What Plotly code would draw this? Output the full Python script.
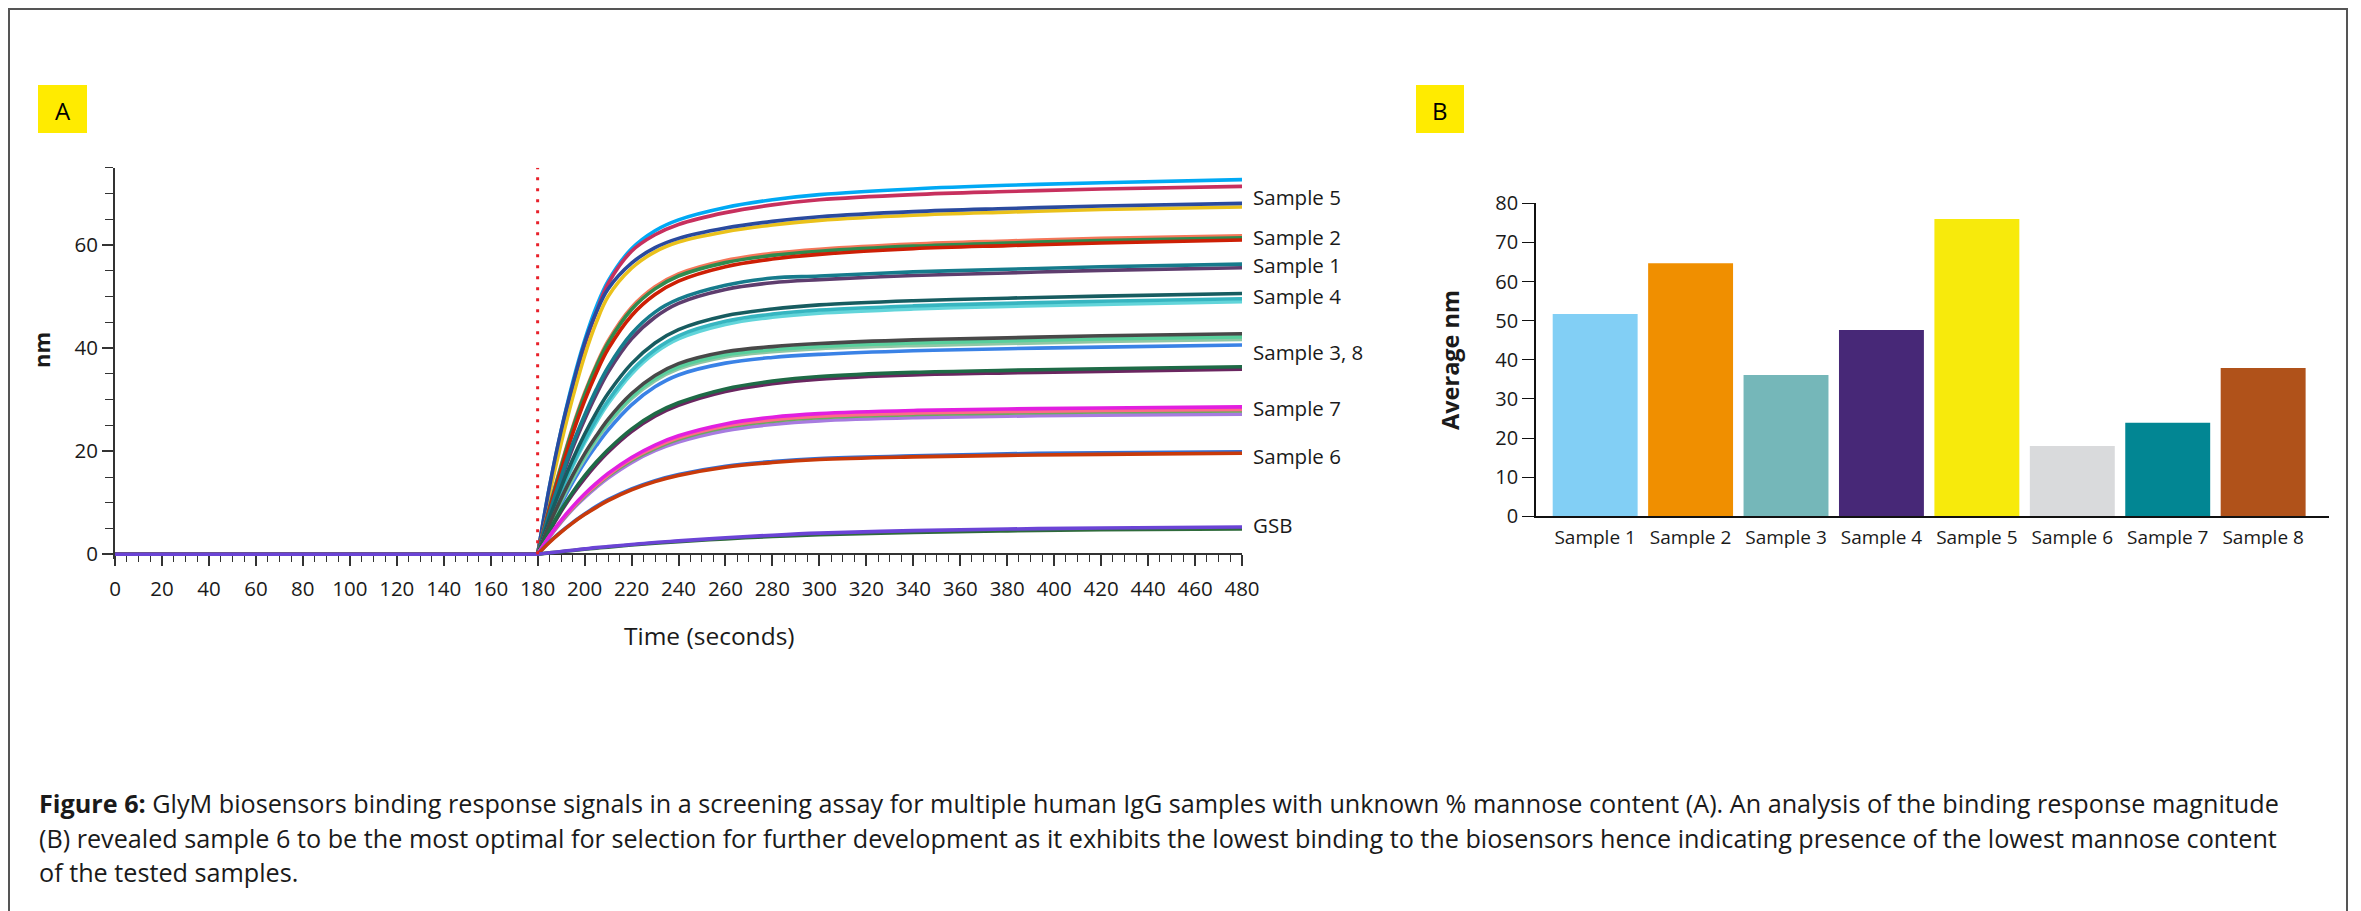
import plotly.graph_objects as go

W, H = 2361, 911

# ---------------- DATA ----------------
baseline_time = [0, 180]
baseline_nm = [0, 0]
assoc_time = [180, 185, 190, 195, 200, 205, 210, 220, 230, 240, 260, 280, 300, 340, 380, 420, 480]

# Sample 5 group
s5_a = [0, 13, 24, 33.5, 41.5, 48, 53, 59.3, 62.8, 64.9, 67.3, 68.8, 69.8, 70.9, 71.6, 72.1, 72.7]
s5_b = [0, 12, 22.5, 32, 40.5, 47, 52.5, 58.8, 62, 64, 66.3, 67.8, 68.8, 69.8, 70.4, 70.9, 71.4]
s5_c = [0, 13, 24, 33, 41, 47, 51.5, 56.5, 59.5, 61.3, 63.3, 64.6, 65.5, 66.5, 67.1, 67.6, 68.1]
s5_d = [0, 11.5, 21.5, 30.5, 38.5, 45, 50, 55.5, 58.7, 60.6, 62.6, 63.9, 64.8, 65.8, 66.4, 66.9, 67.4]
# Sample 2 group
s2_a = [0, 9.2, 17.3, 24.8, 31.3, 36.8, 41.4, 47.9, 51.9, 54.4, 57, 58.4, 59.2, 60.2, 60.8, 61.3, 61.8]
s2_b = [0, 9, 17, 24.5, 31, 36.5, 41, 47.5, 51.5, 54, 56.6, 58, 58.8, 59.8, 60.4, 60.9, 61.4]
s2_c = [0, 8.6, 16.3, 23.5, 29.8, 35.2, 39.8, 46.3, 50.4, 53, 55.8, 57.3, 58.2, 59.3, 59.9, 60.4, 61.0]
# Sample 1 group
s1_a = [0, 8, 15, 21.5, 27, 32, 36.3, 42.8, 47, 49.5, 52.2, 53.6, 54.0, 54.8, 55.3, 55.8, 56.3]
s1_b = [0, 7.6, 14.4, 20.7, 26.1, 31, 35.3, 41.8, 46, 48.7, 51.4, 52.7, 53.3, 54.1, 54.6, 55.1, 55.6]
# Sample 4 group
s4_a = [0, 7, 13, 18.5, 23.3, 27.5, 31.2, 37, 41, 43.6, 46.3, 47.6, 48.4, 49.2, 49.7, 50.1, 50.6]
s4_b = [0, 6.6, 12.3, 17.5, 22.1, 26.2, 29.8, 35.6, 39.7, 42.4, 45.2, 46.6, 47.4, 48.2, 48.7, 49.1, 49.6]
s4_c = [0, 6.4, 12, 17.1, 21.6, 25.6, 29.2, 35, 39.1, 41.8, 44.6, 46, 46.8, 47.6, 48.1, 48.5, 49.0]
# Sample 3, 8 group
s38_a = [0, 5.8, 10.8, 15.4, 19.5, 23, 26.2, 31.2, 34.7, 37, 39.3, 40.3, 40.9, 41.6, 42, 42.4, 42.8]
s38_b = [0, 5.6, 10.5, 15, 19, 22.5, 25.6, 30.6, 34.1, 36.4, 38.7, 39.7, 40.3, 41, 41.4, 41.8, 42.2]
s38_c = [0, 5.5, 10.3, 14.7, 18.6, 22.1, 25.2, 30.2, 33.7, 36, 38.3, 39.3, 39.9, 40.5, 40.9, 41.3, 41.7]
s38_d = [0, 5.2, 9.8, 14, 17.8, 21.1, 24.1, 29, 32.5, 34.8, 37.1, 38.2, 38.8, 39.5, 39.9, 40.2, 40.6]
s38_e = [0, 4.6, 8.6, 12.1, 15.2, 17.9, 20.3, 24.3, 27.3, 29.4, 32.1, 33.6, 34.5, 35.3, 35.7, 36.0, 36.4]
s38_f = [0, 4.4, 8.3, 11.7, 14.7, 17.4, 19.8, 23.8, 26.8, 28.9, 31.6, 33.1, 34, 34.8, 35.2, 35.5, 35.9]
# Sample 7 group
s7_a = [0, 3.5, 6.6, 9.3, 11.7, 13.8, 15.7, 18.8, 21.2, 23, 25.3, 26.6, 27.3, 27.9, 28.2, 28.4, 28.6]
s7_b = [0, 3.4, 6.5, 9.1, 11.5, 13.5, 15.4, 18.5, 20.8, 22.6, 24.9, 26.1, 26.8, 27.4, 27.7, 27.9, 28.1]
s7_c = [0, 3.4, 6.4, 9.0, 11.3, 13.3, 15.2, 18.2, 20.5, 22.3, 24.6, 25.8, 26.5, 27.1, 27.4, 27.6, 27.8]
s7_d = [0, 3.3, 6.2, 8.8, 11.0, 13.0, 14.8, 17.8, 20.1, 21.8, 24.0, 25.2, 25.9, 26.5, 26.8, 27.0, 27.2]
# Sample 6 group
s6_a = [0, 2.4, 4.4, 6.2, 7.8, 9.3, 10.6, 12.7, 14.3, 15.5, 17.1, 18.0, 18.6, 19.1, 19.5, 19.7, 19.9]
s6_b = [0, 2.3, 4.3, 6.1, 7.7, 9.1, 10.4, 12.5, 14.1, 15.3, 16.9, 17.8, 18.4, 18.9, 19.2, 19.4, 19.6]
# GSB group
gsb_a = [0, 0.28, 0.5, 0.75, 0.98, 1.2, 1.4, 1.8, 2.15, 2.45, 3.0, 3.45, 3.8, 4.25, 4.55, 4.75, 4.9]
gsb_b = [0, 0.3, 0.55, 0.8, 1.05, 1.3, 1.5, 1.9, 2.3, 2.6, 3.2, 3.7, 4.1, 4.6, 4.9, 5.1, 5.3]

injection_time = [180]
curve_labels = ["Sample 5", "Sample 2", "Sample 1", "Sample 4", "Sample 3, 8", "Sample 7", "Sample 6", "GSB"]

bar_categories = ["Sample 1", "Sample 2", "Sample 3", "Sample 4", "Sample 5", "Sample 6", "Sample 7", "Sample 8"]
bar_values = [51.7, 64.7, 36.1, 47.6, 76.0, 18.0, 23.9, 37.9]

# ---------------- STYLE ----------------
curves = [
    (s5_a, "#00A9F4"), (s5_b, "#C7305E"), (s5_d, "#EAC11B"), (s5_c, "#2A4A9E"),
    (s2_a, "#F5775A"), (s2_b, "#2E8B4E"), (s2_c, "#CD1F05"),
    (s1_b, "#5E3D6E"), (s1_a, "#167B8C"),
    (s4_c, "#62D5DA"), (s4_b, "#36B5C0"), (s4_a, "#175C60"),
    (s38_d, "#3A82E6"), (s38_c, "#8FC7A5"), (s38_b, "#58CF9C"), (s38_a, "#484848"),
    (s38_f, "#6A2660"), (s38_e, "#1E6A46"),
    (s7_d, "#A77BE0"), (s7_c, "#6DAA5E"), (s7_b, "#FF6A8A"), (s7_a, "#E21FE0"),
    (s6_a, "#3470D4"), (s6_b, "#C93A0A"),
    (gsb_a, "#2F6B3B"), (gsb_b, "#6B44D6"),
]
label_y = [69.3, 61.6, 56.1, 50.1, 39.2, 28.3, 19.0, 5.6]
bar_colors = ["#82CFF5", "#F08F00", "#75B7B9", "#472877", "#F7EA0C", "#D9DADC", "#028693", "#B0521A"]

FONT = "Open Sans"
TXT = "#1a1a1a"
OFF = 8  # the page body margin shifts the figure by 8px; positions below are page pixels


def px_x(x):
    return (x - OFF) / W


def px_y(y):
    return 1 - (y - OFF) / H


# panel A geometry (page pixels)
A_left, A_right = 115, 1242
A_zero, A_top = 554.3, 167.8
A_ymin, A_ymax = -1, 75
A_bottom = A_zero + (A_zero - A_top) / A_ymax * (0 - A_ymin)
# panel B geometry
B_left, B_right = 1536, 2329
B_zero, B_top = 516.3, 203.3

fig = go.Figure()

for vals, col in curves:
    fig.add_trace(go.Scatter(
        x=baseline_time + [None] + assoc_time,
        y=baseline_nm + [None] + vals,
        mode="lines", line=dict(color=col, width=3.6, shape="spline"),
        connectgaps=False, showlegend=False, hoverinfo="skip",
        xaxis="x", yaxis="y"))

fig.add_trace(go.Bar(
    x=bar_categories, y=bar_values, marker=dict(color=bar_colors, line=dict(width=0)),
    xaxis="x2", yaxis="y2", showlegend=False, width=0.89))

# injection dotted line
fig.add_shape(type="line", xref="x", yref="y", x0=injection_time[0], x1=injection_time[0],
              y0=0, y1=A_ymax, line=dict(color="#E8202A", width=3, dash="3px,8px"), layer="above")

fig.update_layout(
    width=W, height=H, autosize=False,
    margin=dict(l=0, r=0, t=0, b=0, pad=0, autoexpand=False),
    paper_bgcolor="white", plot_bgcolor="white",
    font=dict(family=FONT, color=TXT),
    xaxis=dict(domain=[px_x(A_left), px_x(A_right)], range=[0, 480], anchor="free",
               position=px_y(A_zero), showline=True, linecolor="#333", linewidth=2,
               ticks="outside", ticklen=11, tickwidth=1.6, tickcolor="#333", dtick=20, tick0=0,
               minor=dict(ticks="outside", ticklen=7, tickwidth=1.4, tickcolor="#333", dtick=5),
               showgrid=False, zeroline=False, tickfont=dict(size=20.5, family=FONT, color=TXT),
               ticklabelstandoff=5, layer="below traces", automargin=False),
    yaxis=dict(domain=[px_y(A_bottom), px_y(A_top)], range=[A_ymin, A_ymax], anchor="x",
               showline=True, linecolor="#333", linewidth=2, ticks="outside", ticklen=11,
               tickwidth=1.6, tickcolor="#333", tickvals=[0, 20, 40, 60],
               minor=dict(ticks="outside", ticklen=8, tickwidth=1.4, tickcolor="#333", dtick=5, tick0=0),
               showgrid=False, zeroline=False, tickfont=dict(size=20.5, family=FONT, color=TXT),
               ticklabelstandoff=0, layer="below traces", automargin=False),
    xaxis2=dict(domain=[px_x(B_left), px_x(B_right)], range=[-0.62, 7.69], anchor="y2",
                showline=True, linecolor="#111", linewidth=2, ticks="", showgrid=False,
                tickfont=dict(size=19, family=FONT, color=TXT), ticklabelstandoff=3,
                automargin=False),
    yaxis2=dict(domain=[px_y(B_zero), px_y(B_top)], range=[0, 80], anchor="x2",
                showline=True, linecolor="#111", linewidth=1.6, ticks="outside", ticklen=12,
                tickwidth=1.4, tickcolor="#111", dtick=10, showgrid=False, zeroline=False,
                tickfont=dict(size=20, family=FONT, color=TXT), automargin=False),
    bargap=0.11,
)

# frame
fig.add_shape(type="rect", xref="paper", yref="paper", x0=px_x(9), x1=px_x(2347),
              y0=-0.05, y1=px_y(9), line=dict(color="#555", width=2), layer="below")
# panel letter boxes
for letter, (x0, x1) in [("A", (38, 87)), ("B", (1416, 1464))]:
    fig.add_shape(type="rect", xref="paper", yref="paper", x0=px_x(x0), x1=px_x(x1),
                  y0=px_y(133), y1=px_y(85), fillcolor="#FFEB00", line=dict(width=0), layer="below")
    fig.add_annotation(x=px_x((x0 + x1) / 2), y=px_y(110), xref="paper", yref="paper",
                       text=letter, showarrow=False, font=dict(size=24, color="#000", family=FONT),
                       xanchor="center", yanchor="middle")

# curve labels
for lab, ly in zip(curve_labels, label_y):
    fig.add_annotation(x=px_x(1251), y=ly, xref="paper", yref="y", text=lab, showarrow=False,
                       xanchor="left", yanchor="middle", font=dict(size=20.5, family=FONT, color=TXT))

# axis titles
fig.add_annotation(x=px_x(41), y=px_y(350), xref="paper", yref="paper", text="<b>nm</b>",
                   textangle=-90, showarrow=False, xanchor="center", yanchor="middle",
                   font=dict(size=22, family=FONT, color=TXT))
fig.add_annotation(x=px_x(709), y=px_y(635), xref="paper", yref="paper", text="Time (seconds)",
                   showarrow=False, xanchor="center", yanchor="middle",
                   font=dict(size=24.5, family=FONT, color=TXT))
fig.add_annotation(x=px_x(1450), y=px_y(360), xref="paper", yref="paper", text="<b>Average nm</b>",
                   textangle=-90, showarrow=False, xanchor="center", yanchor="middle",
                   font=dict(size=23.5, family=FONT, color=TXT))

# caption
caption = [
    "<b>Figure 6:</b> GlyM biosensors binding response signals in a screening assay for multiple human IgG samples with unknown % mannose content (A). An analysis of the binding response magnitude",
    "(B) revealed sample 6 to be the most optimal for selection for further development as it exhibits the lowest binding to the biosensors hence indicating presence of the lowest mannose content",
    "of the tested samples.",
]
for line, cy in zip(caption, [803, 838, 872]):
    fig.add_annotation(x=px_x(37), y=px_y(cy), xref="paper", yref="paper", text=line,
                       showarrow=False, xanchor="left", yanchor="middle",
                       font=dict(size=25.2, family=FONT, color=TXT))

fig.write_html("out.html")
